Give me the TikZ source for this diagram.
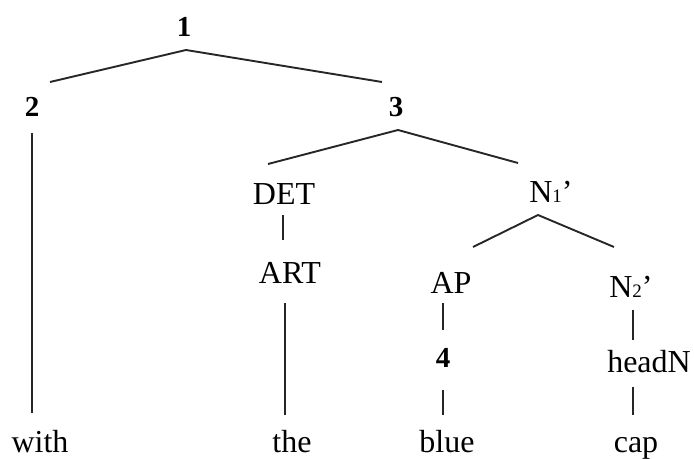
\documentclass[tikz,border=0pt]{standalone}
\usepackage{fontspec}
\setmainfont{Liberation Serif}
\usepackage{tikz}
\usetikzlibrary{calc}
\tikzset{
	word/.style={anchor=base, inner sep=0pt, font=\fontsize{16}{18}\selectfont},
	num/.style={anchor=base, inner sep=0pt, font=\fontsize{14.5}{16}\selectfont\bfseries},
	edge/.style={line width=0.95pt, black!85},
}
\newcommand{\idx}[1]{{\fontsize{9.5}{10}\selectfont #1}}

\begin{document}
\begin{tikzpicture}[x=0.5pt, y=-0.5pt]
	\useasboundingbox (0,0) rectangle (694,459);

	\node [num] (one) at (184,37) {1};
	\node [num] (two) at (32,117) {2};
	\node [num] (three) at (396,117) {3};
	\node [word] (det) at (284,205) {DET};
	\node [word] (n1) at (551,203) {N\idx{1}’};
	\node [word] (art) at (290,283) {ART};
	\node [word] (ap) at (451,293) {AP};
	\node [word] (n2) at (631,297) {N\idx{2}’};
	\node [num] (four) at (443,367) {4};
	\node [word] (headn) at (649,372) {headN};
	\node [word] (with) at (40,452) {with};
	\node [word] (the) at (292,452) {the};
	\node [word] (blue) at (447,452) {blue};
	\node [word] (cap) at (636,452) {cap};

	% branching edges
	\draw [edge] ($(two.base)+(18,-35)$) -- ($(one.base)+(2,13)$) -- ($(three.base)+(-14,-35)$);
	\draw [edge] ($(det.base)+(-16,-41)$) -- ($(three.base)+(2,13)$) -- ($(n1.base)+(-33,-40)$);
	\draw [edge] ($(ap.base)+(22,-46)$) -- ($(n1.base)+(-13,12)$) -- ($(n2.base)+(-17,-50)$);

	% unary edges
	\draw [edge] ($(two.base)+(0,16)$) -- ($(two.base |- with.base)+(0,-39)$);
	\draw [edge] ($(det.base)+(-1,10)$) -- ($(det.base |- art.base)+(-1,-43)$);
	\draw [edge] ($(art.base)+(-5,20)$) -- ($(art.base |- the.base)+(-5,-37)$);
	\draw [edge] ($(four.base |- ap.base)+(0,10)$) -- ($(four.base)+(0,-37)$);
	\draw [edge] ($(four.base)+(0,23)$) -- ($(four.base |- blue.base)+(0,-37)$);
	\draw [edge] ($(n2.base)+(2,13)$) -- ($(n2.base |- headn.base)+(2,-32)$);
	\draw [edge] ($(n2.base |- headn.base)+(2,15)$) -- ($(n2.base |- cap.base)+(2,-37)$);
\end{tikzpicture}
\end{document}
